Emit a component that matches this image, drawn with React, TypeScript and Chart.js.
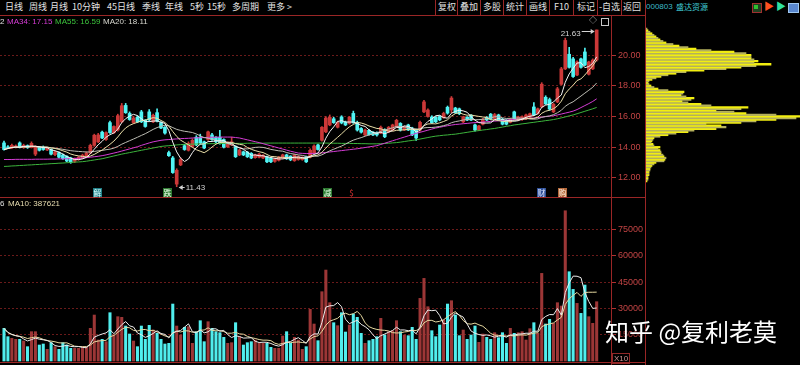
import { useEffect, useRef } from 'react';
import { Chart, registerables } from 'chart.js';

Chart.register(...registerables);

// ---------------- data ----------------
const openPrices = [
  14.28, 14.02, 13.96, 14.00, 14.28, 13.98, 14.10, 13.98, 13.55, 14.00,
  14.00, 13.82, 13.85, 13.52, 13.65, 13.50, 13.40, 13.30, 13.08, 13.20,
  13.30, 13.40, 13.62, 14.12, 14.35, 14.98, 14.50, 15.60, 14.95, 15.12,
  15.65, 16.72, 16.20, 15.60, 15.95, 16.30, 15.75, 16.30, 15.65, 16.25,
  15.60, 15.30, 13.65, 13.30, 11.60, 12.85, 14.10, 13.80, 14.05, 14.65,
  14.65, 14.35, 14.50, 14.80, 14.65, 14.65, 14.50, 14.02, 14.15, 14.05,
  13.50, 13.70, 13.68, 13.60, 13.32, 13.35, 13.30, 13.38, 13.28, 13.08,
  13.15, 13.30, 13.50, 13.42, 13.12, 13.20, 13.20, 13.38, 13.35, 13.62,
  14.15, 14.45, 15.00, 15.45, 15.85, 15.30, 15.97, 15.62, 15.55, 16.20,
  15.62, 15.22, 14.80, 15.10, 14.98, 14.95, 14.92, 15.12, 15.00, 15.12,
  15.32, 15.55, 15.12, 15.45, 15.25, 15.12, 15.12, 16.30, 16.00, 15.97,
  15.95, 16.00, 15.92, 16.60, 16.42, 16.55, 16.50, 15.65, 15.95, 16.08,
  15.45, 15.12, 15.50, 15.95, 16.15, 15.84, 16.10, 15.82, 15.75, 15.62,
  16.30, 15.78, 15.80, 15.85, 15.95, 16.62, 16.20, 16.62, 17.25, 17.10,
  16.30, 16.95, 18.10, 19.10, 20.05, 19.75, 18.70, 19.75, 20.20, 18.75,
  19.10, 19.68,
];
const highPrices = [
  14.40, 14.10, 14.20, 14.15, 14.35, 14.20, 14.15, 14.35, 14.10, 14.05,
  14.08, 14.00, 13.90, 13.75, 13.70, 13.55, 13.45, 13.35, 13.30, 13.40,
  13.55, 13.70, 14.20, 14.85, 14.90, 15.05, 15.00, 15.70, 15.40, 16.15,
  16.85, 16.85, 16.30, 16.00, 16.05, 16.40, 15.80, 16.45, 16.15, 16.50,
  15.65, 15.35, 13.75, 13.40, 12.60, 13.30, 14.20, 14.35, 14.55, 14.75,
  14.85, 14.40, 15.05, 14.90, 14.70, 15.10, 14.55, 14.35, 14.65, 14.10,
  13.88, 13.75, 13.72, 13.65, 13.55, 13.60, 13.52, 13.42, 13.32, 13.30,
  13.40, 13.55, 13.55, 13.45, 13.55, 13.45, 13.38, 13.42, 13.90, 14.15,
  14.20, 15.35, 16.00, 16.10, 15.95, 15.70, 16.05, 15.70, 16.00, 16.35,
  15.70, 15.28, 15.18, 15.15, 15.02, 15.00, 15.38, 15.20, 15.35, 15.50,
  15.82, 15.60, 15.38, 15.50, 15.30, 15.18, 15.70, 17.05, 16.50, 16.05,
  16.00, 16.05, 16.28, 16.68, 17.30, 16.60, 16.55, 16.02, 16.00, 16.12,
  15.50, 15.42, 15.88, 16.00, 16.20, 16.20, 16.15, 15.88, 15.80, 15.88,
  16.35, 16.02, 16.05, 16.15, 16.22, 16.90, 16.55, 18.20, 17.35, 17.20,
  16.85, 17.90, 19.20, 21.10, 20.50, 19.85, 19.62, 19.80, 20.45, 19.60,
  19.75, 21.63,
];
const lowPrices = [
  13.80, 13.90, 13.90, 13.95, 13.95, 13.92, 13.92, 13.95, 13.45, 13.75,
  13.80, 13.78, 13.50, 13.45, 13.30, 13.20, 13.05, 12.95, 13.00, 13.15,
  13.25, 13.35, 13.58, 14.05, 14.30, 14.55, 14.45, 14.90, 14.90, 15.05,
  15.60, 16.20, 15.75, 15.55, 15.60, 15.60, 15.30, 15.70, 15.60, 15.65,
  15.20, 14.85, 13.40, 12.30, 11.43, 12.80, 13.80, 13.75, 14.00, 14.10,
  14.20, 13.90, 14.45, 14.45, 14.30, 14.20, 13.95, 13.98, 14.10, 13.33,
  13.45, 13.45, 13.33, 13.25, 13.28, 13.30, 13.25, 13.00, 13.00, 13.02,
  13.10, 13.25, 13.20, 13.12, 13.08, 13.15, 13.15, 13.00, 13.30, 13.58,
  13.80, 14.40, 14.95, 15.40, 15.55, 15.25, 15.52, 15.40, 15.50, 15.55,
  15.05, 14.92, 14.75, 14.78, 14.75, 14.72, 14.88, 14.62, 14.95, 15.08,
  15.28, 15.05, 15.08, 15.08, 14.75, 14.45, 15.05, 16.25, 15.95, 15.55,
  15.60, 15.72, 15.88, 16.15, 16.25, 16.20, 16.12, 15.60, 15.72, 15.72,
  15.05, 15.08, 15.45, 15.72, 15.80, 15.80, 15.72, 15.45, 15.45, 15.58,
  15.80, 15.72, 15.75, 15.80, 15.90, 16.05, 16.15, 16.58, 16.78, 16.40,
  16.25, 16.90, 18.05, 19.05, 19.15, 18.55, 18.65, 19.15, 19.30, 18.70,
  19.05, 19.60,
];
const closePrices = [
  13.85, 13.98, 14.12, 14.08, 13.98, 14.12, 13.98, 14.25, 14.00, 13.80,
  13.85, 13.95, 13.55, 13.70, 13.35, 13.25, 13.10, 13.02, 13.25, 13.35,
  13.48, 13.62, 14.12, 14.78, 14.80, 14.60, 14.95, 14.95, 15.35, 16.05,
  16.70, 16.25, 15.80, 15.90, 15.65, 15.65, 15.35, 15.78, 16.08, 15.70,
  15.25, 14.92, 13.45, 12.35, 12.50, 13.20, 13.85, 14.25, 14.45, 14.15,
  14.28, 13.95, 15.00, 14.50, 14.35, 14.28, 14.00, 14.28, 14.35, 13.38,
  13.82, 13.50, 13.38, 13.30, 13.50, 13.55, 13.48, 13.05, 13.05, 13.25,
  13.35, 13.50, 13.25, 13.18, 13.50, 13.38, 13.32, 13.05, 13.80, 14.08,
  13.85, 15.30, 15.90, 15.95, 15.60, 15.62, 15.58, 15.45, 15.95, 15.60,
  15.12, 14.98, 15.12, 14.82, 14.80, 14.80, 15.30, 14.68, 15.30, 15.45,
  15.75, 15.12, 15.32, 15.12, 14.80, 14.60, 15.62, 16.95, 16.42, 15.60,
  15.65, 15.78, 16.20, 16.22, 17.20, 16.25, 16.18, 15.97, 15.77, 15.77,
  15.12, 15.38, 15.82, 15.77, 15.84, 16.12, 15.78, 15.50, 15.50, 15.82,
  15.85, 15.97, 15.98, 16.10, 16.18, 16.10, 16.50, 18.10, 16.82, 16.48,
  16.80, 17.80, 19.10, 20.95, 19.20, 18.60, 19.55, 19.20, 19.35, 19.55,
  19.67, 21.63,
];
const volumes = [
  18620, 13870, 12920, 12350, 12350, 11400, 8170, 16720, 16720, 9120,
  9690, 6650, 10450, 8170, 6650, 10450, 9120, 7220, 7220, 7220,
  8170, 7790, 18620, 26220, 11970, 12350, 11020, 27550, 14820, 25270,
  24890, 19950, 15390, 11400, 8170, 19950, 12350, 20330, 17670, 15770,
  12350, 9690, 10070, 32490, 19950, 14820, 19190, 19570, 10070, 16720,
  22990, 11020, 22420, 18620, 16720, 16150, 13490, 10070, 10450, 21850,
  13870, 9120, 10450, 11020, 11970, 10070, 10070, 10070, 7790, 7220,
  7220, 14250, 16720, 10070, 13490, 11970, 6650, 8170, 29450, 21090,
  11590, 39520, 51870, 33250, 21850, 20140, 27550, 16530, 20520, 26790,
  24890, 15770, 10070, 11590, 12350, 13870, 24320, 14820, 16720, 17290,
  22990, 16720, 14820, 14440, 19190, 12350, 35720, 47120, 30970, 17290,
  13870, 20520, 23370, 32490, 34390, 26220, 14440, 17670, 12350, 14820,
  19950, 10640, 15390, 13490, 12350, 16150, 13300, 16150, 10070, 18620,
  15770, 16150, 16720, 11970, 18430, 21850, 15770, 49970, 21090, 23750,
  21470, 33250, 31350, 85690, 50920, 40850, 32870, 27170, 43320, 25270,
  21470, 33820,
];
const ma34Values = [
  13.20, 13.20, 13.20, 13.21, 13.21, 13.21, 13.21, 13.21, 13.22, 13.22,
  13.22, 13.22, 13.23, 13.23, 13.24, 13.24, 13.25, 13.26, 13.27, 13.28,
  13.30, 13.32, 13.35, 13.38, 13.41, 13.45, 13.50, 13.56, 13.62, 13.68,
  13.75, 13.82, 13.89, 13.96, 14.03, 14.12, 14.20, 14.28, 14.35, 14.40,
  14.45, 14.48, 14.50, 14.52, 14.54, 14.56, 14.57, 14.58, 14.60, 14.61,
  14.62, 14.63, 14.64, 14.65, 14.65, 14.66, 14.66, 14.66, 14.66, 14.63,
  14.60, 14.54, 14.48, 14.42, 14.36, 14.30, 14.23, 14.16, 14.09, 14.02,
  13.95, 13.88, 13.81, 13.74, 13.68, 13.62, 13.60, 13.59, 13.59, 13.60,
  13.61, 13.63, 13.66, 13.69, 13.72, 13.75, 13.78, 13.81, 13.84, 13.87,
  13.90, 13.94, 13.98, 14.02, 14.06, 14.10, 14.18, 14.26, 14.34, 14.42,
  14.50, 14.58, 14.66, 14.74, 14.82, 14.90, 14.97, 15.04, 15.11, 15.18,
  15.25, 15.30, 15.35, 15.40, 15.44, 15.48, 15.50, 15.53, 15.55, 15.58,
  15.60, 15.62, 15.64, 15.66, 15.68, 15.70, 15.72, 15.74, 15.76, 15.78,
  15.80, 15.82, 15.84, 15.86, 15.88, 15.90, 15.93, 15.96, 15.99, 16.02,
  16.05, 16.10, 16.16, 16.22, 16.28, 16.35, 16.45, 16.58, 16.71, 16.84,
  16.98, 17.15,
];
const ma55Values = [
  12.75, 12.76, 12.78, 12.79, 12.81, 12.82, 12.84, 12.85, 12.87, 12.88,
  12.90, 12.91, 12.93, 12.94, 12.96, 12.97, 12.99, 13.01, 13.03, 13.04,
  13.06, 13.09, 13.13, 13.17, 13.21, 13.25, 13.31, 13.37, 13.43, 13.49,
  13.55, 13.60, 13.65, 13.70, 13.75, 13.80, 13.85, 13.90, 13.95, 14.00,
  14.05, 14.08, 14.10, 14.12, 14.15, 14.17, 14.18, 14.19, 14.20, 14.21,
  14.22, 14.22, 14.23, 14.23, 14.24, 14.24, 14.24, 14.25, 14.25, 14.25,
  14.25, 14.25, 14.26, 14.26, 14.26, 14.26, 14.26, 14.27, 14.27, 14.27,
  14.27, 14.27, 14.27, 14.27, 14.27, 14.27, 14.27, 14.27, 14.27, 14.27,
  14.27, 14.27, 14.27, 14.26, 14.26, 14.26, 14.25, 14.25, 14.25, 14.24,
  14.24, 14.23, 14.23, 14.22, 14.22, 14.22, 14.23, 14.24, 14.26, 14.28,
  14.30, 14.33, 14.37, 14.41, 14.44, 14.48, 14.53, 14.58, 14.63, 14.68,
  14.72, 14.75, 14.78, 14.80, 14.83, 14.85, 14.89, 14.93, 14.97, 15.01,
  15.05, 15.08, 15.12, 15.15, 15.19, 15.22, 15.27, 15.31, 15.36, 15.40,
  15.45, 15.48, 15.52, 15.55, 15.59, 15.62, 15.66, 15.69, 15.73, 15.76,
  15.80, 15.85, 15.91, 15.97, 16.04, 16.10, 16.18, 16.26, 16.34, 16.42,
  16.50, 16.59,
];
const priceTicks = [12, 14, 16, 18, 20];
const volumeTicks = [15000, 30000, 45000, 60000, 75000];
const chipPrices = [
  11.8, 11.9, 12.0, 12.1, 12.2, 12.3, 12.4, 12.5, 12.6, 12.7,
  12.8, 12.9, 13.0, 13.1, 13.2, 13.3, 13.4, 13.5, 13.6, 13.7,
  13.8, 13.9, 14.0, 14.1, 14.2, 14.3, 14.4, 14.5, 14.6, 14.7,
  14.8, 14.9, 15.0, 15.1, 15.2, 15.3, 15.4, 15.5, 15.6, 15.7,
  15.8, 15.9, 16.0, 16.1, 16.2, 16.3, 16.4, 16.5, 16.6, 16.7,
  16.8, 16.9, 17.0, 17.1, 17.2, 17.3, 17.4, 17.5, 17.6, 17.7,
  17.8, 17.9, 18.0, 18.1, 18.2, 18.3, 18.4, 18.5, 18.6, 18.7,
  18.8, 18.9, 19.0, 19.1, 19.2, 19.3, 19.4, 19.5, 19.6, 19.7,
  19.8, 19.9, 20.0, 20.1, 20.2, 20.3, 20.4, 20.5, 20.6, 20.7,
  20.8, 20.9, 21.0, 21.1, 21.2, 21.3, 21.4, 21.5, 21.6, 21.7,
];
const chipSizes = [
  1, 2, 2, 2, 3, 3, 3, 4, 4, 5,
  6, 8, 10, 18, 19, 20, 18, 17, 15, 15,
  14, 12, 14, 8, 7, 5, 6, 7, 8, 14,
  22, 30, 42, 48, 70, 80, 75, 60, 95, 110,
  130, 150, 155, 130, 100, 88, 70, 95, 102, 65,
  55, 42, 36, 45, 48, 40, 35, 37, 38, 22,
  12, 8, 5, 3, 2, 3, 6, 10, 15, 22,
  30, 40, 58, 80, 95, 110, 125, 108, 112, 108,
  105, 105, 105, 100, 88, 65, 50, 42, 33, 27,
  20, 17, 14, 12, 10, 8, 6, 4, 2, 1,
];
const menuTabs = ['日线', '周线', '月线', '10分钟', '45日线', '季线', '年线', '5秒', '15秒', '多周期', '更多 >'];
const toolButtons = ['复权', '叠加', '多股', '统计', '画线', 'F10', '标记', '-自选', '返回'];
const stockCode = '000803';
const stockName = '盛达资源';
const priceLegend = ['MA34: 17.15', 'MA55: 16.59', 'MA20: 18.11'];
const volumeLegend = 'MA10: 387621';
const eventLabels = ['解', '跌', '减', '$', '财', '购'];

// ---------------- helpers ----------------
function movingAverage(values: number[], n: number): number[] {
  return values.map((_, i) => {
    const start = Math.max(0, i - n + 1);
    let s = 0;
    for (let k = start; k <= i; k++) s += values[k];
    return s / (i - start + 1);
  });
}

const FONT = '"Liberation Sans", Arial, "Noto Sans CJK SC", sans-serif';
const CJK = '"Noto Sans CJK SC", "Liberation Sans", sans-serif';
const X_MIN = -1.02;
const X_MAX = 154.65;
const PRICE_MIN = 10.76;
const PRICE_MAX = 22.54;
const VOL_MIN = -570;
const VOL_MAX = 93530;
const LINE_RED = '#9a2626';
const UP = '#cc3838';
const DOWN = '#50f4f4';
const VOL_UP = '#9c3636';
const VOL_DOWN = '#50eeee';

const extremesPlugin = {
  id: 'extremes',
  afterDatasetsDraw(chart: any) {
    const { ctx, scales } = chart;
    const xs = scales.x;
    const ys = scales.y;
    let hi = 0;
    let lo = 0;
    highPrices.forEach((v, i) => { if (v > highPrices[hi]) hi = i; });
    lowPrices.forEach((v, i) => { if (v < lowPrices[lo]) lo = i; });
    ctx.save();
    ctx.font = '8px ' + FONT;
    ctx.fillStyle = '#d4d4d4';
    ctx.strokeStyle = '#d4d4d4';
    ctx.lineWidth = 1;
    const hx = xs.getPixelForValue(hi);
    const hy = Math.round(ys.getPixelForValue(highPrices[hi])) + 1.5;
    ctx.beginPath(); ctx.moveTo(hx - 15, hy); ctx.lineTo(hx - 3, hy); ctx.stroke();
    ctx.beginPath(); ctx.moveTo(hx - 2, hy); ctx.lineTo(hx - 6, hy - 2.5); ctx.lineTo(hx - 6, hy + 2.5); ctx.closePath(); ctx.fill();
    ctx.textAlign = 'right'; ctx.textBaseline = 'middle';
    ctx.fillText(highPrices[hi].toFixed(2), hx - 16, hy + 2);
    const lx = xs.getPixelForValue(lo);
    const ly = Math.round(ys.getPixelForValue(lowPrices[lo])) + 0.5;
    ctx.beginPath(); ctx.moveTo(lx + 3, ly); ctx.lineTo(lx + 8, ly); ctx.stroke();
    ctx.beginPath(); ctx.moveTo(lx + 2, ly); ctx.lineTo(lx + 6, ly - 2.5); ctx.lineTo(lx + 6, ly + 2.5); ctx.closePath(); ctx.fill();
    ctx.textAlign = 'left';
    ctx.fillText(lowPrices[lo].toFixed(2), lx + 9, ly + 0.5);
    ctx.restore();
  },
};

function lineSet(values: number[], color: string) {
  return {
    type: 'line',
    data: values.map((v, i) => ({ x: i, y: v })),
    borderColor: color,
    borderWidth: 1,
    pointRadius: 0,
    tension: 0,
    order: 0,
  };
}

function rightAxis(min: number, max: number, ticks: number[], fmt: (v: number) => string) {
  return {
    position: 'right',
    min,
    max,
    offset: false,
    afterFit: (s: any) => { s.width = 34; s.paddingTop = 0; s.paddingBottom = 0; },
    afterBuildTicks: (s: any) => { s.ticks = ticks.map((v) => ({ value: v })); },
    grid: { color: '#6a1a1a', tickColor: '#b03030', tickLength: 5, lineWidth: 1 },
    border: { display: false, dash: [2, 2] },
    ticks: { color: '#c24444', padding: 2, font: { size: 9, family: FONT }, callback: (v: any) => fmt(Number(v)) },
  };
}

const indexAxis = { type: 'linear', min: X_MIN, max: X_MAX, display: false, offset: false, bounds: 'data', grid: { offset: false } };

const common = {
  responsive: false,
  animation: false,
  events: [],
  devicePixelRatio: 1,
  layout: { padding: 0 },
  plugins: { legend: { display: false }, tooltip: { enabled: false } },
};

export default function App() {
  const priceRef = useRef<HTMLCanvasElement>(null);
  const volRef = useRef<HTMLCanvasElement>(null);
  const chipRef = useRef<HTMLCanvasElement>(null);

  useEffect(() => {
    const charts: Chart[] = [];
    const isUp = closePrices.map((c, i) => c >= openPrices[i]);
    const candleColors = isUp.map((u) => (u ? UP : DOWN));

    if (priceRef.current) {
      charts.push(new Chart(priceRef.current, {
        type: 'bar',
        data: {
          datasets: [
            lineSet(movingAverage(closePrices, 5), '#f4f4f4'),
            lineSet(movingAverage(closePrices, 10), '#eadfa8'),
            lineSet(movingAverage(closePrices, 20), '#bdbdb4'),
            lineSet(ma34Values, '#d43cd4'),
            lineSet(ma55Values, '#3cb43c'),
            {
              type: 'bar',
              data: openPrices.map((o, i) => ({ x: i, y: [o, closePrices[i]] })),
              backgroundColor: candleColors,
              barThickness: 3,
              grouped: false,
              order: 1,
            },
            {
              type: 'bar',
              data: lowPrices.map((l, i) => ({ x: i, y: [l, highPrices[i]] })),
              backgroundColor: candleColors,
              barThickness: 1,
              grouped: false,
              order: 2,
            },
          ],
        } as any,
        options: {
          ...common,
          scales: {
            x: indexAxis,
            y: rightAxis(PRICE_MIN, PRICE_MAX, priceTicks, (v) => v.toFixed(2)),
          },
        } as any,
        plugins: [extremesPlugin],
      }));
    }

    if (volRef.current) {
      charts.push(new Chart(volRef.current, {
        type: 'bar',
        data: {
          datasets: [
            lineSet(movingAverage(volumes, 5), '#ececec'),
            lineSet(movingAverage(volumes, 10), '#e6d9a0'),
            {
              type: 'bar',
              data: volumes.map((v, i) => ({ x: i, y: v })),
              backgroundColor: isUp.map((u) => (u ? VOL_UP : VOL_DOWN)),
              barThickness: 2.4,
              grouped: false,
              order: 1,
            },
          ],
        } as any,
        options: {
          ...common,
          scales: {
            x: indexAxis,
            y: rightAxis(VOL_MIN, VOL_MAX, volumeTicks, (v) => String(v)),
          },
        } as any,
      }));
    }

    if (chipRef.current) {
      charts.push(new Chart(chipRef.current, {
        type: 'bar',
        data: {
          datasets: [{
            data: chipPrices.map((p, i) => ({ x: chipSizes[i], y: p })),
            backgroundColor: chipPrices.map((_, i) => (i % 2 ? '#b4b05c' : '#f2ee10')),
            barThickness: 1.6,
            grouped: false,
          }],
        } as any,
        options: {
          ...common,
          indexAxis: 'y',
          scales: {
            x: { type: 'linear', min: 0, max: 154, display: false, offset: false },
            y: { type: 'linear', min: PRICE_MIN, max: PRICE_MAX, display: false, offset: false, bounds: 'data', grid: { offset: false } },
          },
        } as any,
      }));
    }

    return () => charts.forEach((c) => c.destroy());
  }, []);

  const tabLeft = [5, 29, 50, 72, 107, 142, 165, 190, 207, 232, 267];
  const btnLeft = [438, 460, 483, 506, 529, 554, 577, 599, 623];
  const sepX = [435, 457, 480, 503, 526, 549, 573, 597, 621];
  const marks = [
    { left: 93, bg: '#1e7e86', color: '#d8ffff' },
    { left: 163, bg: '#2d7a31', color: '#e8ffe8' },
    { left: 323, bg: '#2d7a31', color: '#e8ffe8' },
    { left: 347, bg: 'transparent', color: '#e03232' },
    { left: 537, bg: '#2d4f98', color: '#dfe8ff' },
    { left: 558, bg: '#b4683a', color: '#fff0e0' },
  ];
  const abs = (s: any) => ({ position: 'absolute', ...s }) as any;

  return (
    <div style={{ position: 'fixed', left: 0, top: 0, width: 800, height: 365, background: '#000', overflow: 'hidden', fontFamily: FONT }}>
      {/* top menu */}
      {menuTabs.map((t, i) => (
        <span key={t} style={abs({ left: tabLeft[i], top: 1, fontSize: 9, lineHeight: '12px', color: '#e2e2e2', fontFamily: CJK, whiteSpace: 'nowrap' })}>{t}</span>
      ))}
      {toolButtons.map((t, i) => (
        <span key={t} style={abs({ left: btnLeft[i], top: 1, fontSize: 9, lineHeight: '12px', color: '#e2e2e2', fontFamily: CJK, whiteSpace: 'nowrap' })}>{t}</span>
      ))}
      {sepX.map((x) => (
        <div key={x} style={abs({ left: x, top: 0, width: 1, height: 15, background: LINE_RED })} />
      ))}
      <span style={abs({ left: 646, top: 1, fontSize: 8, lineHeight: '12px', color: '#3cb8c8', whiteSpace: 'nowrap' })}>{stockCode}</span>
      <span style={abs({ left: 676, top: 1, fontSize: 8, lineHeight: '12px', color: '#40d0d8', fontFamily: CJK, whiteSpace: 'nowrap' })}>{stockName}</span>
      <div style={abs({ left: 752, top: 3, width: 8, height: 8, border: '1px solid #a03030', background: '#204020' })} />
      <div style={abs({ left: 754, top: 5, width: 4, height: 4, background: '#30c030' })} />
      <span style={abs({ left: 764, top: 1, fontSize: 10, lineHeight: '12px', color: '#ff5020' })}>▶</span>
      <span style={abs({ left: 776, top: 1, fontSize: 10, lineHeight: '12px', color: '#30e0a0' })}>▶</span>
      <div style={abs({ left: 788, top: 3, width: 9, height: 8, background: '#5a88d0', border: '1px solid #a0c8f0' })} />
      <div style={abs({ left: 0, top: 15, width: 645, height: 1, background: LINE_RED })} />

      {/* canvases */}
      <canvas ref={priceRef} width={645} height={181} style={abs({ left: 0, top: 16, width: 645, height: 181, display: 'block' })} />
      <canvas ref={volRef} width={645} height={165} style={abs({ left: 0, top: 197, width: 645, height: 165, display: 'block' })} />
      <canvas ref={chipRef} width={154} height={181} style={abs({ left: 646, top: 16, width: 154, height: 181, display: 'block' })} />

      {/* frame lines */}
      <div style={abs({ left: 0, top: 197, width: 645, height: 1, background: LINE_RED })} />
      <div style={abs({ left: 0, top: 362, width: 645, height: 1, background: LINE_RED })} />
      <div style={abs({ left: 611, top: 16, width: 1, height: 349, background: LINE_RED })} />
      <div style={abs({ left: 645, top: 0, width: 1, height: 365, background: LINE_RED })} />

      {/* price legend */}
      <span style={abs({ left: 0, top: 17, fontSize: 8, lineHeight: '10px', color: '#e0e0e0' })}>2</span>
      <span style={abs({ left: 7, top: 17, fontSize: 8, lineHeight: '10px', color: '#d83cd8', whiteSpace: 'nowrap' })}>{priceLegend[0]}</span>
      <span style={abs({ left: 55, top: 17, fontSize: 8, lineHeight: '10px', color: '#3cc43c', whiteSpace: 'nowrap' })}>{priceLegend[1]}</span>
      <span style={abs({ left: 103, top: 17, fontSize: 8, lineHeight: '10px', color: '#d8d8d0', whiteSpace: 'nowrap' })}>{priceLegend[2]}</span>
      <span style={abs({ left: 589, top: 15, fontSize: 8, lineHeight: '12px', color: '#d0d0d0' })}>◇</span>
      <div style={abs({ left: 601, top: 18, width: 6, height: 6, border: '1px solid #c8c8c8' })} />

      {/* volume legend */}
      <span style={abs({ left: 0, top: 199, fontSize: 8, lineHeight: '10px', color: '#e0e0e0' })}>6</span>
      <span style={abs({ left: 8, top: 199, fontSize: 8, lineHeight: '10px', color: '#e8ddb0', whiteSpace: 'nowrap' })}>{volumeLegend}</span>

      {/* event markers */}
      {eventLabels.map((t, i) => (
        <span key={t} style={abs({ left: marks[i].left, top: 188, width: 9, height: 9, fontSize: 8, lineHeight: '9px', textAlign: 'center', background: marks[i].bg, color: marks[i].color, fontFamily: CJK })}>{t}</span>
      ))}

      {/* X10 */}
      <span style={abs({ left: 612, top: 353, fontSize: 8, lineHeight: '9px', color: '#c89090', border: '1px solid #902828', padding: '0 1px' })}>X10</span>

      {/* watermark */}
      <span style={abs({ left: 605, top: 316, fontSize: 24, lineHeight: '30px', color: '#ffffff', fontFamily: CJK, whiteSpace: 'nowrap', textShadow: '0 0 2px #000' })}>知乎 @复利老莫</span>
    </div>
  );
}
